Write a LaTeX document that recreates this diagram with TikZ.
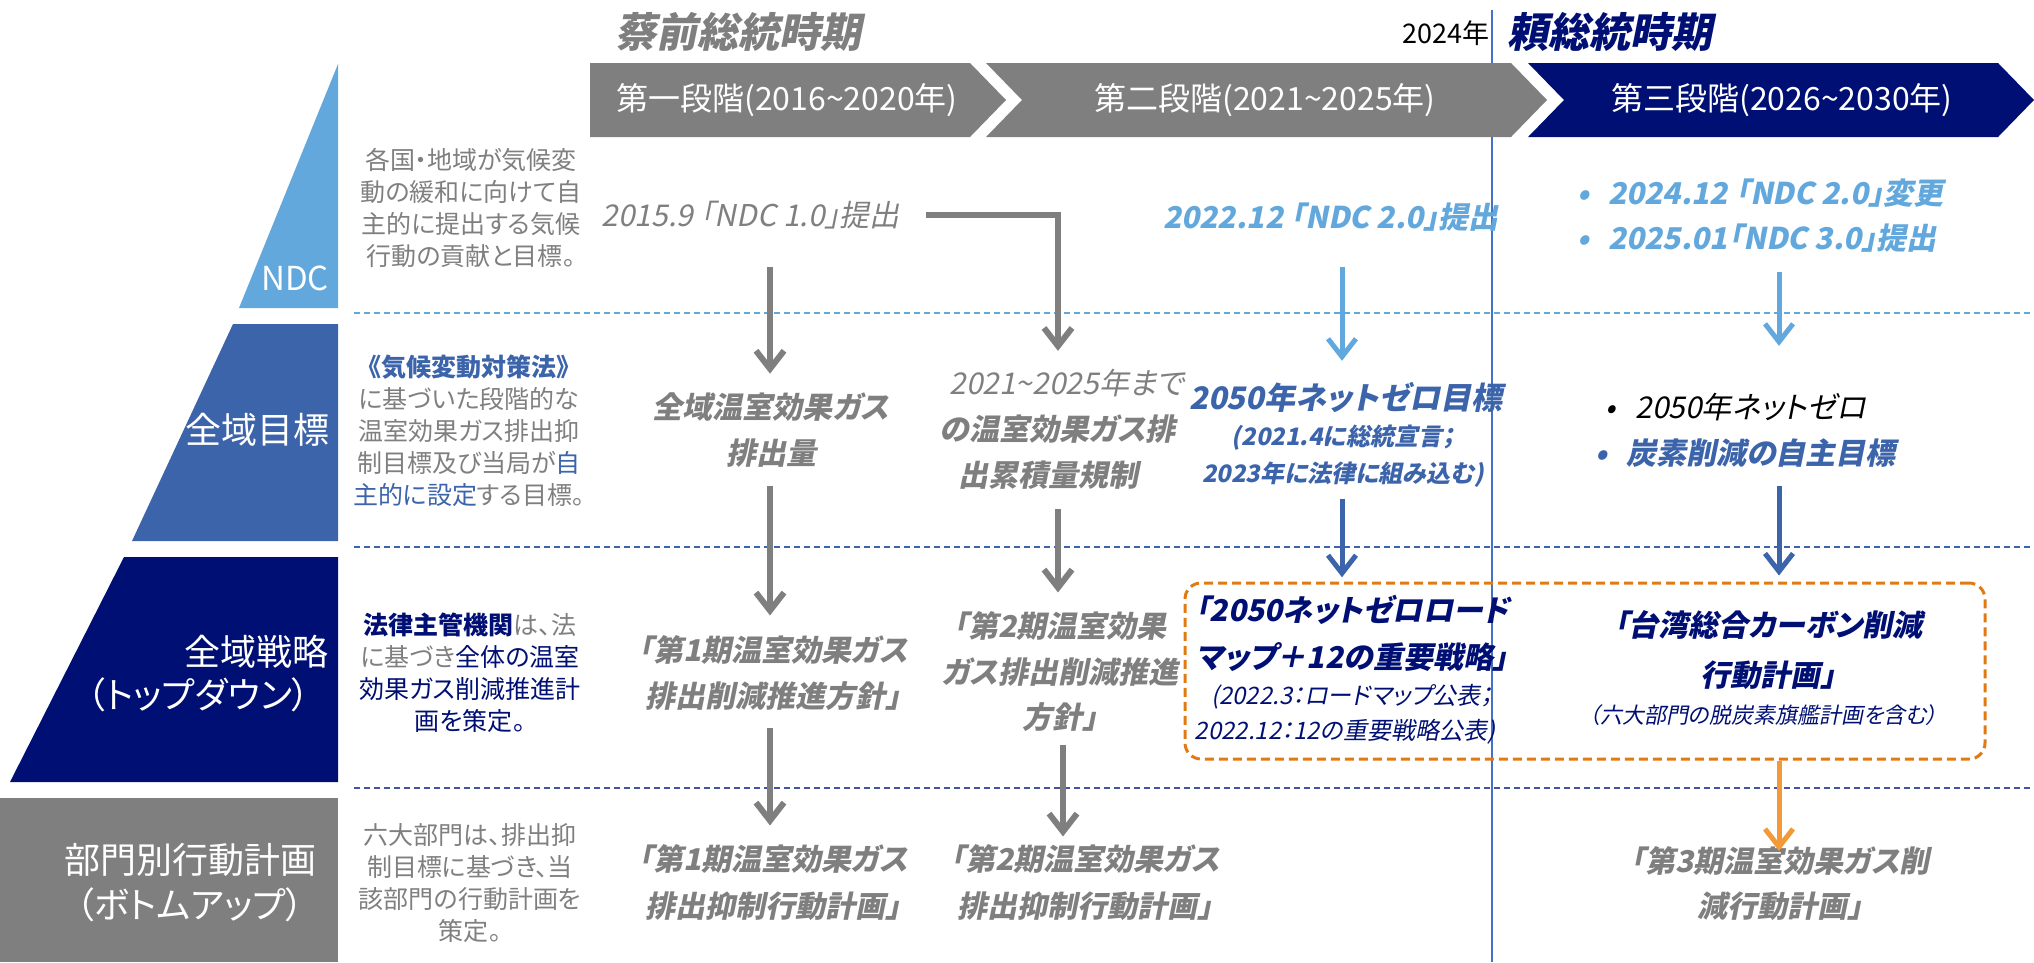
\documentclass[tikz,border=0pt]{standalone}
\usepackage{fontspec}
\setmainfont{Noto Sans CJK JP}[RawFeature=+palt]
\newfontfamily\jpbold{Noto Sans CJK JP}[BoldItalicFont={*/B}, BoldItalicFeatures={FakeSlant=0.2}, RawFeature=+palt]
\newcommand\bit{\jpbold\bfseries\itshape}
\usetikzlibrary{arrows.meta}
\definecolor{cgray}{RGB}{127,127,127}
\definecolor{cnavy}{RGB}{0,15,115}
\definecolor{clight}{RGB}{98,168,220}
\definecolor{cmid}{RGB}{60,100,170}
\definecolor{csep}{RGB}{72,82,165}
\definecolor{cvline}{RGB}{68,114,196}
\definecolor{corange}{RGB}{226,122,20}
\definecolor{corange2}{RGB}{242,154,56}
\newcommand\fsz[2]{\fontsize{#1}{#2}\selectfont}
\begin{document}
\begin{tikzpicture}[x=1pt,y=-1pt,
  txt/.style={inner sep=0pt, outer sep=0pt, align=center},
  slanted/.style={xslant=0.2},
  gtxt/.style={txt, text=cgray, font=\fsz{30}{46}\bit},
  desc/.style={txt, text=cgray, font=\fsz{25}{32}},
  lvl/.style={txt, text=white, font=\fsz{36}{43}},
  phase/.style={txt, text=white, font=\fsz{32}{36}},
  dashsep/.style={line width=2pt, dash pattern=on 6pt off 4pt},
  arr/.style={line width=6pt, -{Straight Barb[length=18pt,width=28pt]}},
  garrow/.style={arr, draw=cgray},
  lbarrow/.style={arr, line width=5pt, draw=clight},
  mbarrow/.style={arr, line width=5pt, draw=cmid},
  oarrow/.style={arr, line width=5pt, draw=corange2}
]
\useasboundingbox (0,0) rectangle (2034,962);

% column guides
\coordinate (c1) at (770,0);
\coordinate (c2) at (1058,0);
\coordinate (c2b) at (1063,0);
\coordinate (c3) at (1342,0);
\coordinate (c4) at (1779,0);

% vertical 2024 line
\draw[cvline, line width=1.5pt] (1492,10) -- (1492,962);

% titles
\node[txt, font=\fsz{41}{45}\bit, text=cgray] (t1) at (738,32) {蔡前総統時期};
\node[txt, font=\fsz{27}{30}, text=black, anchor=east] (t2024) at (1489,33) {2024年};
\node[txt, font=\fsz{41}{45}\bit, text=cnavy, anchor=west] (t2) at (1507,32) {頼総統時期};

% phases
\fill[cgray] (590,63) -- (970,63) -- (1006,100) -- (970,137) -- (590,137) -- cycle;
\fill[cgray] (986,63) -- (1511,63) -- (1547,100) -- (1511,137) -- (986,137) -- (1022,100) -- cycle;
\fill[cnavy] (1528,63) -- (1998,63) -- (2034,100) -- (1998,137) -- (1528,137) -- (1564,100) -- cycle;
\node[phase] (p1) at (787,100) {第一段階(2016\textasciitilde 2020年)};
\node[phase] (p2) at (1265,100) {第二段階(2021\textasciitilde 2025年)};
\node[phase] (p3) at (1782,100) {第三段階(2026\textasciitilde 2030年)};

% pyramid
\fill[clight] (338,64) -- (239,308) -- (338,308) -- cycle;
\fill[cmid] (233,324) -- (338,324) -- (338,541) -- (132,541) -- cycle;
\fill[cnavy] (124,557) -- (338,557) -- (338,782) -- (10,782) -- cycle;
\fill[cgray] (0,798) rectangle (338,962);
\node[txt, text=white, font=\fsz{33}{36}] (lndc) at (295,278) {NDC};
\node[lvl] (lgoal) at (257,430) {全域目標};
\node[lvl, align=right, anchor=east] (lstrat) at (328,673.5) {全域戦略\\（トップダウン）\hspace*{18pt}};
\node[lvl, font=\fsz{36}{45}] (lact) at (190,882.5) {部門別行動計画\\（ボトムアップ）};

% separators
\draw[dashsep, clight] (354,313) -- (2034,313);
\draw[dashsep, cmid] (354,547) -- (2034,547);
\draw[dashsep, csep] (354,788) -- (2034,788);

% descriptions
\node[desc] (dndc) at (471,207.5) {各国・地域が気候変\\動の緩和に向けて自\\主的に提出する気候\\行動の貢献と目標。};
\node[desc] (dgoal) at (469,431) {\textcolor{cmid}{\bfseries 《気候変動対策法》}\\に基づいた段階的な\\温室効果ガス排出抑\\制目標及び当局が\textcolor{cmid}{自}\\\textcolor{cmid}{主的に設定}する目標。};
\node[desc] (dstrat) at (470,672.5) {\textcolor{cnavy}{\bfseries 法律主管機関}は、法\\に基づき\textcolor{cnavy}{全体の温室}\\\textcolor{cnavy}{効果ガス削減推進計}\\\textcolor{cnavy}{画を策定。}};
\node[desc] (dact) at (470,883.5) {六大部門は、排出抑\\制目標に基づき、当\\該部門の行動計画を\\策定。};

% NDC row
\node[txt, slanted, text=cgray, font=\fsz{30}{34}] (ndc1) at (753,215) {2015.9 「NDC 1.0」提出};
\node[txt, text=clight, font=\fsz{30}{34}\bit] (ndc2) at (1331,217) {2022.12 「NDC 2.0」提出};
\node[txt, text=clight, font=\fsz{30}{45}\bit, align=left, anchor=west] (ndc3) at (1558,215.5) {\makebox[50pt][c]{•}2024.12 「NDC 2.0」変更\\\makebox[50pt][c]{•}2025.01「NDC 3.0」提出};

% goal row
\node[gtxt] (goal1) at (771,430) {全域温室効果ガス\\排出量};
\node[txt, slanted, text=cgray, font=\fsz{30}{46}] (goal2) at (1060,429) {2021\textasciitilde 2025年まで\\{\bfseries の温室効果ガス排}\\{\bfseries 出累積量規制}};
\node[txt, text=cmid, font=\fsz{31}{36}\bit] (goal3) at (1346,397) {2050年ネットゼロ目標};
\node[txt, text=cmid, font=\fsz{24}{37}\bit] (goal3s) at (1343,456.5) {(2021.4に総統宣言；\\2023年に法律に組み込む)};
\node[txt, slanted, font=\fsz{30}{46}, align=left, anchor=west] (goal4) at (1583,430) {\makebox[50pt][c]{•}2050年ネットゼロ\\\textcolor{cmid}{\bfseries\makebox[50pt][c]{•}炭素削減の自主目標}};

% strategy row
\node[draw=corange, line width=3pt, dash pattern=on 9pt off 5pt, rounded corners=16pt, minimum width=800pt, minimum height=176pt, inner sep=0pt] (sbox) at (1585,671) {};
\node[gtxt] (strat1) at (773,673) {「第1期温室効果ガス\\排出削減推進方針」};
\node[gtxt, font=\fsz{30}{45.5}\bit] (strat2) at (1060,672) {「第2期温室効果\\ガス排出削減推進\\方針」};
\node[txt, text=cnavy, font=\fsz{30}{47}\bit] (strat3) at (1352,633.5) {「2050ネットゼロロード\\マップ＋12の重要戦略」};
\node[txt, slanted, text=cnavy, font=\fsz{24}{35}] (strat3s) at (1350,714.5) {(2022.3：ロードマップ公表；\\2022.12：12の重要戦略公表)};
\node[txt, text=cnavy, font=\fsz{30}{50}\bit] (strat4) at (1768,650) {「台湾総合カーボン削減\\行動計画」};
\node[txt, slanted, text=cnavy, font=\fsz{22}{26}] (strat4s) at (1765,715) {（六大部門の脱炭素旗艦計画を含む）};

% action row
\node[gtxt, font=\fsz{30}{47}\bit] (act1) at (773,883) {「第1期温室効果ガス\\排出抑制行動計画」};
\node[gtxt, font=\fsz{30}{47}\bit] (act2) at (1085,883) {「第2期温室効果ガス\\排出抑制行動計画」};
\node[gtxt, font=\fsz{30}{45}\bit] (act4) at (1780,884) {「第3期温室効果ガス削\\減行動計画」};

% connectors
\draw[garrow, shorten <=38pt, shorten >=19pt] (ndc1.south -| c1) -- (goal1.north -| c1);
\draw[garrow, shorten <=24pt, shorten >=18pt] (ndc1.east) -| (goal2.north -| c2);
\draw[garrow, shorten <=19pt, shorten >=20pt] (goal1.south -| c1) -- (strat1.north -| c1);
\draw[garrow, shorten <=20pt, shorten >=19.5pt] (goal2.south -| c2) -- (strat2.north -| c2);
\draw[garrow, shorten <=17pt, shorten >=19.5pt] (strat1.south -| c1) -- (act1.north -| c1);
\draw[garrow, shorten <=12.5pt, shorten >=8.5pt] (strat2.south -| c2b) -- (act2.north -| c2b);
\draw[lbarrow, shorten <=36pt, shorten >=21pt] (ndc2.south -| c3) -- (goal3.north -| c3);
\draw[mbarrow, shorten <=11pt, shorten >=18pt] (goal3s.south -| c3) -- (strat3.north -| c3);
\draw[lbarrow, shorten <=20pt, shorten >=47pt] (ndc3.south -| c4) -- (goal4.north -| c4);
\draw[mbarrow, shorten <=19pt, shorten >=6pt] (goal4.south -| c4) -- (sbox.north -| c4);
\draw[oarrow, shorten >=-4pt] (sbox.south -| c4) -- (act4.north -| c4);
\end{tikzpicture}
\end{document}
